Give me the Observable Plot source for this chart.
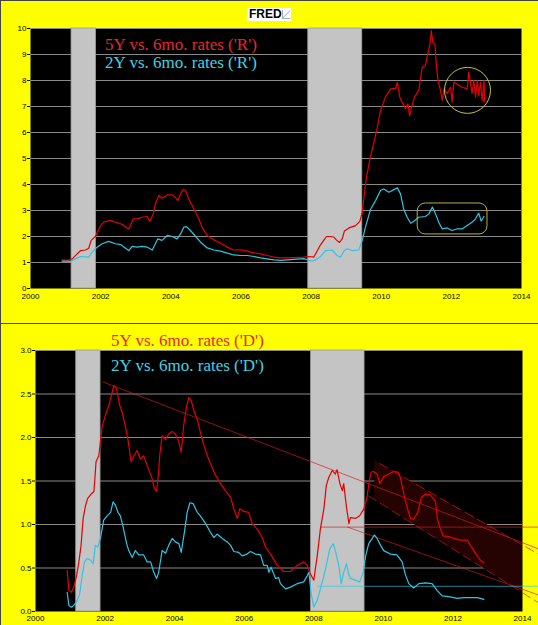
<!DOCTYPE html>
<html><head><meta charset="utf-8">
<script src="https://cdn.jsdelivr.net/npm/d3@7"></script>
<script src="https://cdn.jsdelivr.net/npm/@observablehq/plot@0.6"></script>
<style>
html,body{margin:0;padding:0;background:#ffff00;}
#page{position:relative;width:538px;height:625px;background:#ffff00;overflow:hidden;}
.pl{position:absolute;left:0;}
.leg{position:absolute;font-family:"Liberation Serif","Times New Roman",serif;font-size:17px;line-height:17px;white-space:nowrap;}
.bd{position:absolute;background:#444;}
#fred{position:absolute;left:247px;top:8px;width:44px;height:13px;background:#fff;font-family:"Liberation Sans",Arial,sans-serif;font-weight:bold;font-size:12px;line-height:13px;color:#000;}
#fred span{position:absolute;left:2px;top:0;}
#fred i{position:absolute;left:35px;top:2px;width:7px;height:8px;border-left:1px solid #aab;border-bottom:1px solid #aab;background:linear-gradient(135deg,transparent 45%,#8ab 50%,transparent 60%);}
</style></head>
<body><div id="page">
<div class="bd" style="left:0;top:0;width:538px;height:1px"></div>
<div class="bd" style="left:0;top:0;width:1px;height:625px"></div>
<div class="bd" style="left:0;top:323px;width:538px;height:1px"></div>
<div id="fred"><span>FRED</span><i></i></div>
<div id="top" class="pl" style="top:0"></div>
<div id="bot" class="pl" style="top:324px"></div>
<div class="leg" style="left:105px;top:36px;color:#e42a2a">5Y vs. 6mo. rates ('R')</div>
<div class="leg" style="left:105px;top:54px;color:#40d2e2">2Y vs. 6mo. rates ('R')</div>
<div class="leg" style="left:111px;top:332px;color:#e42a2a">5Y vs. 6mo. rates ('D')</div>
<div class="leg" style="left:111px;top:357px;color:#40d2e2">2Y vs. 6mo. rates ('D')</div>
</div>
<script>
// ---- tick labels ----
const xTicks = [2000, 2002, 2004, 2006, 2008, 2010, 2012, 2014];
const topYTicks = [0,1,2,3,4,5,6,7,8,9,10];
const botYTicks = [0, 0.5, 1.0, 1.5, 2.0, 2.5, 3.0];

// ---- recessions (decimal years) ----
const recStart = [2001.17, 2007.92];
const recEnd = [2001.87, 2009.46];

// ---- top panel: ratios ('R') ----
const r5Years = [2000.90,2001.05,2001.19,2001.33,2001.43,2001.57,2001.66,2001.73,2001.85,2002.00,2002.09,2002.28,2002.42,2002.57,2002.71,2002.79,2002.85,2002.93,2003.04,2003.18,2003.33,2003.40,2003.50,2003.56,2003.66,2003.75,2003.90,2004.04,2004.13,2004.20,2004.28,2004.35,2004.42,2004.51,2004.66,2004.80,2004.90,2005.04,2005.23,2005.42,2005.61,2005.80,2005.99,2006.18,2006.37,2006.56,2006.75,2006.94,2007.13,2007.32,2007.79,2007.94,2008.08,2008.18,2008.27,2008.36,2008.44,2008.55,2008.65,2008.72,2008.81,2008.89,2008.95,2009.08,2009.27,2009.39,2009.46,2009.52,2009.58,2009.67,2009.89,2009.98,2010.12,2010.27,2010.41,2010.46,2010.53,2010.62,2010.69,2010.76,2010.81,2010.88,2010.95,2011.07,2011.17,2011.26,2011.31,2011.39,2011.43,2011.47,2011.53,2011.57,2011.62,2011.69,2011.74,2011.79,2011.88,2011.98,2012.02,2012.07,2012.16,2012.31,2012.45,2012.50,2012.55,2012.59,2012.64,2012.69,2012.74,2012.78,2012.83,2012.88,2012.93,2012.95];
const r5Vals = [1.10,1.08,1.14,1.33,1.46,1.48,1.55,1.85,2.00,2.42,2.55,2.62,2.55,2.49,2.38,2.29,2.42,2.68,2.68,2.74,2.77,2.58,2.87,3.26,3.58,3.47,3.60,3.60,3.51,3.38,3.64,3.81,3.77,3.45,3.06,2.68,2.33,2.04,1.87,1.74,1.59,1.48,1.49,1.44,1.37,1.33,1.27,1.21,1.18,1.18,1.21,1.23,1.21,1.46,1.68,1.85,2.00,2.00,1.98,1.87,1.77,1.92,2.21,2.33,2.42,2.58,2.94,3.64,4.28,4.92,6.20,6.85,7.36,7.68,7.70,7.93,7.36,7.10,6.91,7.10,6.65,7.04,7.36,7.62,8.51,8.58,8.90,9.41,9.92,9.47,9.41,8.64,8.00,7.62,7.23,7.68,7.50,7.74,7.17,7.93,7.87,7.74,7.68,8.32,7.87,7.50,8.00,7.36,8.00,7.42,7.93,7.23,8.00,7.17];

const r2Years = [2000.90,2001.14,2001.28,2001.43,2001.66,2001.76,2001.90,2002.04,2002.23,2002.42,2002.57,2002.71,2002.80,2002.90,2003.04,2003.18,2003.33,2003.47,2003.56,2003.63,2003.75,2003.90,2004.04,2004.18,2004.28,2004.37,2004.45,2004.56,2004.71,2004.85,2005.04,2005.23,2005.42,2005.61,2005.80,2005.99,2006.18,2006.37,2006.56,2006.75,2006.94,2007.13,2007.32,2007.79,2008.03,2008.13,2008.27,2008.41,2008.60,2008.74,2008.84,2008.95,2009.03,2009.17,2009.36,2009.46,2009.55,2009.70,2009.84,2009.98,2010.07,2010.22,2010.46,2010.55,2010.64,2010.74,2010.84,2010.93,2011.07,2011.26,2011.36,2011.46,2011.55,2011.64,2011.74,2011.88,2012.02,2012.16,2012.31,2012.45,2012.59,2012.69,2012.78,2012.85,2012.93];
const r2Vals = [1.05,1.04,1.14,1.23,1.21,1.40,1.59,1.72,1.81,1.72,1.69,1.55,1.46,1.62,1.59,1.62,1.59,1.48,1.72,1.91,1.85,2.04,2.00,1.91,2.10,2.36,2.38,2.23,2.00,1.78,1.56,1.48,1.44,1.36,1.29,1.27,1.27,1.23,1.18,1.14,1.10,1.08,1.10,1.15,1.05,1.10,1.23,1.46,1.48,1.27,1.21,1.46,1.53,1.46,1.48,1.85,2.36,3.06,3.38,3.77,3.83,3.70,3.87,3.64,3.06,2.74,2.51,2.59,2.74,2.77,2.87,3.13,2.87,2.55,2.29,2.33,2.23,2.29,2.29,2.42,2.55,2.68,2.90,2.59,2.77];

// ---- bottom panel: differences ('D') ----
const d5Years = [2000.91,2000.96,2001.03,2001.10,2001.18,2001.24,2001.31,2001.37,2001.44,2001.50,2001.60,2001.68,2001.72,2001.74,2001.82,2001.92,2002.04,2002.11,2002.18,2002.25,2002.33,2002.42,2002.49,2002.59,2002.66,2002.75,2002.83,2002.92,2003.02,2003.11,2003.21,2003.35,2003.42,2003.48,2003.54,2003.57,2003.64,2003.74,2003.83,2003.93,2004.02,2004.12,2004.19,2004.26,2004.34,2004.41,2004.48,2004.55,2004.65,2004.74,2004.84,2004.94,2005.03,2005.17,2005.32,2005.46,2005.61,2005.70,2005.80,2005.87,2005.99,2006.13,2006.23,2006.37,2006.52,2006.61,2006.76,2006.95,2007.14,2007.33,2007.52,2007.71,2007.81,2007.88,2008.00,2008.10,2008.19,2008.29,2008.36,2008.43,2008.53,2008.62,2008.67,2008.75,2008.82,2008.86,2008.94,2009.01,2009.05,2009.20,2009.32,2009.44,2009.53,2009.60,2009.65,2009.72,2009.82,2009.90,2010.01,2010.16,2010.30,2010.43,2010.49,2010.59,2010.68,2010.78,2010.87,2010.99,2011.09,2011.21,2011.35,2011.43,2011.50,2011.55,2011.62,2011.72,2011.88,2012.03,2012.22,2012.41,2012.50,2012.60,2012.70,2012.79,2012.89];
const d5Vals = [0.47,0.24,0.22,0.28,0.41,0.55,0.76,1.07,1.22,1.30,1.35,1.38,1.60,1.72,1.79,2.14,2.29,2.37,2.48,2.60,2.56,2.37,2.29,2.12,1.97,1.72,1.79,1.85,1.75,1.79,1.68,1.53,1.41,1.38,1.60,1.79,2.02,1.98,2.04,2.07,2.04,1.95,1.83,2.14,2.35,2.46,2.42,2.31,2.21,2.06,1.91,1.79,1.70,1.57,1.47,1.39,1.31,1.18,1.07,1.18,1.15,1.14,1.01,0.95,0.85,0.74,0.66,0.53,0.46,0.46,0.53,0.57,0.53,0.45,0.36,0.64,0.95,1.18,1.45,1.54,1.62,1.58,1.63,1.47,1.39,1.47,1.20,1.01,1.08,1.07,1.10,1.18,1.31,1.51,1.60,1.61,1.58,1.47,1.55,1.58,1.61,1.60,1.54,1.35,1.20,1.07,1.06,1.14,1.31,1.35,1.34,1.30,1.26,1.08,0.97,0.87,0.86,0.84,0.82,0.82,0.76,0.70,0.64,0.59,0.56];

const d2Years = [2000.91,2000.96,2001.03,2001.10,2001.18,2001.27,2001.34,2001.41,2001.49,2001.58,2001.66,2001.72,2001.79,2001.87,2001.96,2002.06,2002.16,2002.23,2002.30,2002.37,2002.44,2002.52,2002.62,2002.68,2002.78,2002.87,2002.97,2003.11,2003.21,2003.31,2003.40,2003.48,2003.54,2003.64,2003.74,2003.83,2003.93,2004.02,2004.12,2004.19,2004.28,2004.36,2004.44,2004.53,2004.65,2004.74,2004.89,2005.03,2005.13,2005.22,2005.37,2005.51,2005.61,2005.70,2005.84,2005.94,2006.08,2006.18,2006.32,2006.47,2006.56,2006.66,2006.71,2006.77,2006.90,2006.99,2007.04,2007.19,2007.33,2007.52,2007.71,2007.81,2007.86,2007.92,2008.00,2008.10,2008.19,2008.29,2008.36,2008.46,2008.56,2008.62,2008.72,2008.79,2008.86,2008.94,2008.99,2009.05,2009.20,2009.32,2009.42,2009.49,2009.58,2009.68,2009.74,2009.82,2009.92,2010.01,2010.20,2010.39,2010.54,2010.63,2010.73,2010.87,2011.02,2011.21,2011.40,2011.55,2011.69,2011.88,2012.12,2012.31,2012.50,2012.70,2012.89];
const d2Vals = [0.22,0.07,0.05,0.07,0.11,0.20,0.41,0.57,0.61,0.59,0.55,0.76,0.74,0.85,1.05,1.10,1.14,1.26,1.22,1.14,1.10,0.97,0.78,0.70,0.62,0.70,0.65,0.65,0.57,0.57,0.45,0.38,0.45,0.70,0.67,0.76,0.84,0.80,0.78,0.68,0.91,1.14,1.25,1.24,1.14,1.10,1.01,0.91,0.85,0.89,0.84,0.80,0.76,0.69,0.68,0.64,0.66,0.69,0.66,0.65,0.53,0.53,0.45,0.51,0.38,0.39,0.32,0.26,0.28,0.32,0.34,0.41,0.45,0.22,0.05,0.13,0.26,0.41,0.53,0.72,0.78,0.70,0.53,0.32,0.45,0.55,0.45,0.38,0.36,0.34,0.45,0.64,0.78,0.84,0.88,0.84,0.76,0.70,0.66,0.65,0.57,0.43,0.32,0.27,0.32,0.33,0.32,0.24,0.18,0.17,0.15,0.16,0.16,0.16,0.14];

// ---- hand-drawn annotations (data space) ----
const circleNote = {x: 2012.46, y: 7.62};
const boxNote = {x1: 2011.04, x2: 2013.03, y1: 2.08, y2: 3.27};
// trend lines: [x1, y1, x2, y2]
const redTrendLines = [
  [2001.93, 2.64, 2014.46, 0.72],
  [2008.19, 0.97, 2014.46, 0.97],
  [2008.97, 0.97, 2014.46, 0.19]
];
const channelUpper = [2009.90, 1.70, 2014.46, 0.66];
const channelLower = [2009.57, 1.33, 2014.46, 0.10];
const cyanTrend = [2008.10, 0.29, 2014.46, 0.29];

const RED = "#e60000", CYAN = "#2ec6e2";
const zip = (xs, ys) => xs.map((x, i) => ({x, y: ys[i]}));
const recessions = recStart.map((s, i) => ({s, e: recEnd[i]}));
const fmtYear = d => String(d);
const baseStyle = {background: "transparent", fontFamily: "Liberation Sans, Arial, sans-serif", fontSize: "8px", color: "#000", overflow: "visible"};

const topChart = Plot.plot({
  width: 538, height: 320,
  marginLeft: 30, marginRight: 17, marginTop: 28, marginBottom: 32,
  style: baseStyle,
  x: {domain: [2000, 2014]},
  y: {domain: [0, 10]},
  marks: [
    Plot.frame({fill: "#000", stroke: null}),
    Plot.ruleY(topYTicks.filter(d => d > 0), {stroke: "#8a8a8a", strokeWidth: 1.2}),
    Plot.rect(recessions, {x1: "s", x2: "e", y1: () => 0, y2: () => 10, fill: "#c4c4c4", stroke: "#9a9a9a", strokeWidth: 0.8}),
    Plot.line(zip(r5Years, r5Vals), {x: "x", y: "y", stroke: RED, strokeWidth: 1.2}),
    Plot.line(zip(r2Years, r2Vals), {x: "x", y: "y", stroke: CYAN, strokeWidth: 1.2}),
    Plot.dot([circleNote], {x: "x", y: "y", r: 23, stroke: "#c8c040", fill: "none", strokeWidth: 1}),
    Plot.rect([boxNote], {x1: "x1", x2: "x2", y1: "y1", y2: "y2", rx: 8, stroke: "#b8b040", fill: "none", strokeWidth: 1}),
    Plot.axisY({ticks: topYTicks, tickSize: 3, tickPadding: 1, tickFormat: d => String(d), fontSize: 8}),
    Plot.axisX({ticks: xTicks, tickSize: 0, tickPadding: 5, tickFormat: fmtYear, fontSize: 8})
  ]
});
document.getElementById("top").appendChild(topChart);

const seg = a => [{x: a[0], y: a[1]}, {x: a[2], y: a[3]}];
const lineAt = (a, x) => a[1] + (a[3] - a[1]) * (x - a[0]) / (a[2] - a[0]);
const shadeXs = [2009.75, 2014];
const shade = shadeXs.map(x => ({x, y1: lineAt(channelLower, x), y2: lineAt(channelUpper, x)}));
const TREND = "#dd1a1a";

const botChart = Plot.plot({
  width: 538, height: 301,
  marginLeft: 35, marginRight: 16, marginTop: 26, marginBottom: 14,
  style: baseStyle,
  x: {domain: [2000, 2014]},
  y: {domain: [0, 3]},
  marks: [
    Plot.frame({fill: "#000", stroke: null}),
    Plot.ruleY(botYTicks.filter(d => d > 0), {stroke: "#8a8a8a", strokeWidth: 1.2}),
    Plot.rect(recessions, {x1: "s", x2: "e", y1: () => 0, y2: () => 3, fill: "#c4c4c4", stroke: "#9a9a9a", strokeWidth: 0.8}),
    Plot.areaY(shade, {x: "x", y1: "y1", y2: "y2", fill: "#260303"}),
    ...redTrendLines.map(t => Plot.line(seg(t), {x: "x", y: "y", stroke: TREND, strokeWidth: 0.9, strokeOpacity: 0.75})),
    Plot.line(seg(channelUpper), {x: "x", y: "y", stroke: TREND, strokeWidth: 0.9, strokeOpacity: 0.75, strokeDasharray: "9,5"}),
    Plot.line(seg(channelLower), {x: "x", y: "y", stroke: TREND, strokeWidth: 0.9, strokeOpacity: 0.75, strokeDasharray: "9,5"}),
    Plot.line(seg(cyanTrend), {x: "x", y: "y", stroke: CYAN, strokeWidth: 0.9, strokeOpacity: 0.75}),
    Plot.line(zip(d5Years, d5Vals), {x: "x", y: "y", stroke: RED, strokeWidth: 1.2}),
    Plot.line(zip(d2Years, d2Vals), {x: "x", y: "y", stroke: CYAN, strokeWidth: 1.2}),
    Plot.axisY({ticks: botYTicks, tickSize: 3, tickPadding: 1, tickFormat: d3.format(".1f"), fontSize: 8}),
    Plot.axisX({ticks: xTicks, tickSize: 0, tickPadding: 4, tickFormat: fmtYear, fontSize: 8})
  ]
});
document.getElementById("bot").appendChild(botChart);
</script>
</body></html>
